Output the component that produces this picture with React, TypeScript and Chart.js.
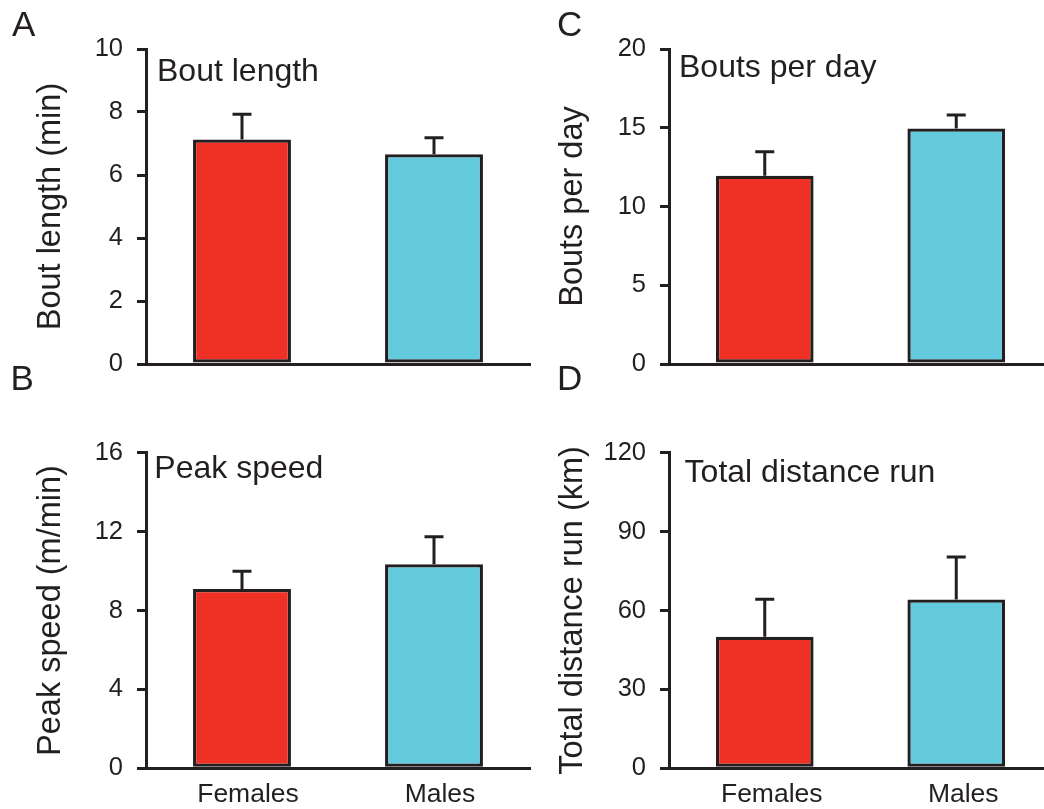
import React, { useEffect, useRef } from "react";
import { Chart, registerables } from "chart.js";

Chart.register(...registerables);

// ---------- data ----------
const categories = ["Females", "Males"];

const boutLength = [7.13, 6.66];
const boutLengthErr = [0.8, 0.52];
const boutLengthTicks = [0, 2, 4, 6, 8, 10];

const boutsPerDay = [11.96, 14.96];
const boutsPerDayErr = [1.52, 0.85];
const boutsPerDayTicks = [0, 5, 10, 15, 20];

const peakSpeed = [9.09, 10.35];
const peakSpeedErr = [0.9, 1.39];
const peakSpeedTicks = [0, 4, 8, 12, 16];

const totalDistance = [50.0, 64.2];
const totalDistanceErr = [14.3, 16.1];
const totalDistanceTicks = [0, 30, 60, 90, 120];

// ---------- style ----------
const RED = "#EE3124";
const CYAN = "#63CADD";
const DARK = "#231F20";
const FONT = "'Liberation Sans', Arial, Helvetica, sans-serif";

type PanelCfg = {
  letter: string;
  letterLeft: number;
  letterTop: number;
  left: number;
  top: number;
  w: number;
  h: number;
  padTop: number;
  padRight: number;
  yWidth: number;
  xHeight: number;
  values: number[];
  errors: number[];
  ticks: number[];
  yTitle: string;
  panelTitle: string;
  titleDx: number;
  titleDy: number;
  showX: boolean;
  labelOffset: number;
};

const panels: PanelCfg[] = [
  {
    letter: "A", letterLeft: 12, letterTop: 6.4,
    left: 0, top: 0, w: 540, h: 400, padTop: 49, padRight: 10, yWidth: 146, xHeight: 36,
    values: boutLength, errors: boutLengthErr, ticks: boutLengthTicks,
    yTitle: "Bout length (min)", panelTitle: "Bout length", titleDx: 11, titleDy: 32,
    showX: false, labelOffset: 0,
  },
  {
    letter: "C", letterLeft: 557, letterTop: 6.4,
    left: 522, top: 0, w: 540, h: 400, padTop: 49, padRight: 10, yWidth: 147, xHeight: 36,
    values: boutsPerDay, errors: boutsPerDayErr, ticks: boutsPerDayTicks,
    yTitle: "Bouts per day", panelTitle: "Bouts per day", titleDx: 10, titleDy: 28.3,
    showX: false, labelOffset: 0,
  },
  {
    letter: "B", letterLeft: 10.5, letterTop: 360.4,
    left: 0, top: 400, w: 540, h: 409, padTop: 52.7, padRight: 10, yWidth: 146, xHeight: 40.7,
    values: peakSpeed, errors: peakSpeedErr, ticks: peakSpeedTicks,
    yTitle: "Peak speed (m/min)", panelTitle: "Peak speed", titleDx: 8.3, titleDy: 25,
    showX: true, labelOffset: 6,
  },
  {
    letter: "D", letterLeft: 557, letterTop: 360.4,
    left: 522, top: 400, w: 540, h: 409, padTop: 52.7, padRight: 10, yWidth: 147, xHeight: 40.7,
    values: totalDistance, errors: totalDistanceErr, ticks: totalDistanceTicks,
    yTitle: "Total distance run (km)", panelTitle: "Total distance run", titleDx: 15.6, titleDy: 29.6,
    showX: true, labelOffset: 7,
  },
];

function Panel({ cfg }: { cfg: PanelCfg }) {
  const ref = useRef<HTMLCanvasElement>(null);

  useEffect(() => {
    const canvas = ref.current;
    if (!canvas) return;

    const decorPlugin = {
      id: "decor" + cfg.letter,
      afterDatasetsDraw(chart: any) {
        const ctx = chart.ctx;
        const meta = chart.getDatasetMeta(0);
        const yScale = chart.scales.y;
        ctx.save();
        ctx.strokeStyle = DARK;
        ctx.lineWidth = 3;
        ctx.lineCap = "butt";
        meta.data.forEach((bar: any, i: number) => {
          const v = cfg.values[i];
          const e = cfg.errors[i];
          const x = bar.x;
          const yBase = yScale.getPixelForValue(v);
          const yTop = yScale.getPixelForValue(v + e);
          ctx.beginPath();
          ctx.moveTo(x, yBase);
          ctx.lineTo(x, yTop);
          ctx.moveTo(x - 9.5, yTop);
          ctx.lineTo(x + 9.5, yTop);
          ctx.stroke();
        });
        const area = chart.chartArea;
        ctx.fillStyle = DARK;
        ctx.font = `32px ${FONT}`;
        ctx.textBaseline = "alphabetic";
        ctx.textAlign = "left";
        ctx.fillText(cfg.panelTitle, area.left + cfg.titleDx, area.top + cfg.titleDy);
        ctx.restore();
      },
    };

    const t = cfg.ticks;
    const chart = new Chart(canvas, {
      type: "bar",
      data: {
        labels: categories,
        datasets: [
          {
            data: cfg.values,
            backgroundColor: [RED, CYAN],
            borderColor: DARK,
            borderWidth: 3.3,
            borderSkipped: false,
            barPercentage: 0.51,
            categoryPercentage: 1,
          },
        ],
      },
      options: {
        responsive: false,
        animation: false,
        devicePixelRatio: 1,
        layout: { padding: { left: 0, right: cfg.padRight, top: cfg.padTop, bottom: 0 } },
        plugins: {
          legend: { display: false },
          tooltip: { enabled: false },
        },
        scales: {
          x: {
            type: "category",
            ticks: {
              display: cfg.showX,
              font: { family: FONT, size: 26.5 },
              color: DARK,
              padding: 10,
              labelOffset: cfg.labelOffset,
              maxRotation: 0,
            },
            grid: { display: false, drawTicks: false },
            border: { display: true, width: 3, color: DARK },
            afterFit: (s: any) => {
              s.height = cfg.xHeight;
            },
          },
          y: {
            type: "linear",
            min: t[0],
            max: t[t.length - 1],
            ticks: {
              stepSize: t[1] - t[0],
              font: { family: FONT, size: 25.5 },
              color: DARK,
              padding: 14,
            },
            grid: {
              display: true,
              drawOnChartArea: false,
              drawTicks: true,
              tickLength: 9,
              lineWidth: 3,
              color: DARK,
            },
            border: { display: true, width: 3, color: DARK },
            title: {
              display: true,
              text: cfg.yTitle,
              font: { family: FONT, size: 32.5 },
              color: DARK,
              padding: { top: 32, bottom: 0 },
            },
            afterFit: (s: any) => {
              s.width = cfg.yWidth;
            },
          },
        },
      },
      plugins: [decorPlugin],
    } as any);

    return () => chart.destroy();
  }, [cfg]);

  return (
    <canvas
      ref={ref}
      width={cfg.w}
      height={cfg.h}
      style={{ position: "absolute", left: cfg.left, top: cfg.top, width: cfg.w, height: cfg.h, display: "block" }}
    />
  );
}

export default function App() {
  return (
    <div
      style={{
        position: "absolute",
        left: 0,
        top: 0,
        width: 1044,
        height: 809,
        overflow: "hidden",
        background: "#fff",
        fontFamily: FONT,
      }}
    >
      {panels.map((p) => (
        <Panel key={p.letter} cfg={p} />
      ))}
      {panels.map((p) => (
        <div
          key={"L" + p.letter}
          style={{
            position: "absolute",
            left: p.letterLeft,
            top: p.letterTop,
            fontSize: 35,
            lineHeight: "35px",
            color: DARK,
            fontFamily: FONT,
          }}
        >
          {p.letter}
        </div>
      ))}
    </div>
  );
}
